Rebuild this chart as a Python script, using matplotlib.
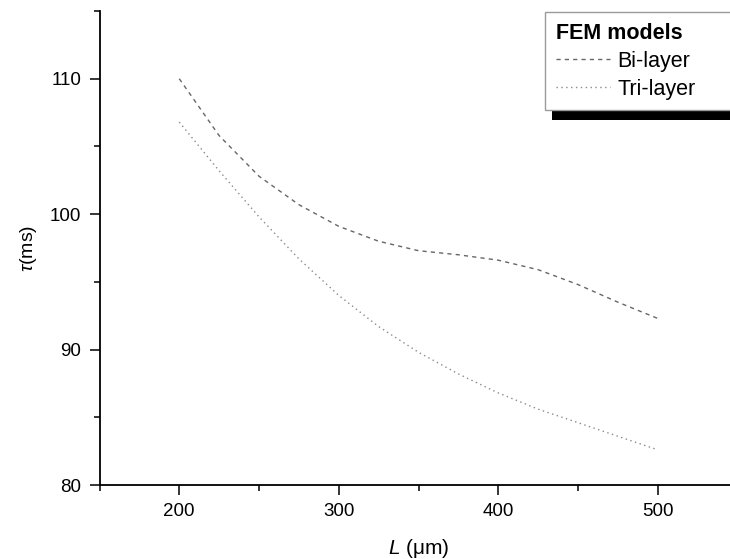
import numpy as np
import matplotlib
matplotlib.use('Agg')
import matplotlib.pyplot as plt
from matplotlib.patches import Rectangle
from matplotlib.ticker import MultipleLocator
from matplotlib.transforms import IdentityTransform

plt.rcParams['font.family'] = ['Liberation Sans', 'DejaVu Sans']
plt.rcParams['mathtext.fontset'] = 'custom'
plt.rcParams['mathtext.rm'] = 'Liberation Sans'
plt.rcParams['mathtext.it'] = 'Liberation Sans:italic'

# length L (um)
L = [200, 225, 250, 275, 300, 325, 350, 375, 400, 425, 450, 475, 500]
# time constant tau (ms) for each FEM model
tau_bi = [110.0, 105.8, 102.8, 100.7, 99.1, 98.0, 97.3, 97.0, 96.6, 95.9, 94.8, 93.5, 92.3]
tau_tri = [106.8, 103.2, 99.8, 96.7, 94.0, 91.7, 89.8, 88.2, 86.8, 85.6, 84.6, 83.6, 82.6]

W, H = 730, 559
fig = plt.figure(figsize=(W / 100, H / 100), dpi=100)
ax = fig.add_axes([99.5 / W, 74 / H, 638 / W, 474 / H])

ax.plot(L, tau_bi, color='#666666', lw=1.0, linestyle=(0, (3, 3)), label='Bi-layer')
ax.plot(L, tau_tri, color='#8a8a8a', lw=1.0, linestyle=(0, (1, 2.5)), label='Tri-layer')

ax.set_xlim(150, 550)
ax.set_ylim(80, 115)
ax.xaxis.set_major_locator(MultipleLocator(100))
ax.xaxis.set_minor_locator(MultipleLocator(50))
ax.yaxis.set_major_locator(MultipleLocator(10))
ax.yaxis.set_minor_locator(MultipleLocator(5))
ax.tick_params(which='major', direction='out', length=7, width=1.1, labelsize=13.5, pad=6)
ax.tick_params(which='minor', direction='out', length=4, width=1.1)
ax.spines['top'].set_visible(False)
ax.spines['right'].set_visible(False)
ax.spines['left'].set_linewidth(1.3)
ax.spines['bottom'].set_linewidth(1.3)

ax.set_xlabel(r'$L$ (μm)', fontsize=15, labelpad=12)
ax.set_ylabel(r'$\tau$(ms)', fontsize=14, labelpad=8)

leg = ax.legend(loc='upper left', bbox_to_anchor=(545 / W, 0, 0.3, 1 - 12 / H),
                bbox_transform=fig.transFigure, mode='expand', borderaxespad=0,
                title='FEM models', title_fontproperties={'weight': 'bold', 'size': 15.5},
                fontsize=15.5, alignment='left', fancybox=False, framealpha=1,
                edgecolor='#9a9a9a', handlelength=2.5, handletextpad=0.35,
                labelspacing=0.32, borderpad=0.5)
leg.get_frame().set_linewidth(1.0)
leg.set_zorder(5)

fig.canvas.draw()
bb = leg.get_frame().get_window_extent()
shadow = Rectangle((bb.x0 + 7, bb.y0 - 10), bb.width, bb.height, transform=IdentityTransform(),
                   facecolor='black', edgecolor='none', zorder=4.9, clip_on=False)
ax.add_artist(shadow)

fig.savefig('out.png', dpi=100)
